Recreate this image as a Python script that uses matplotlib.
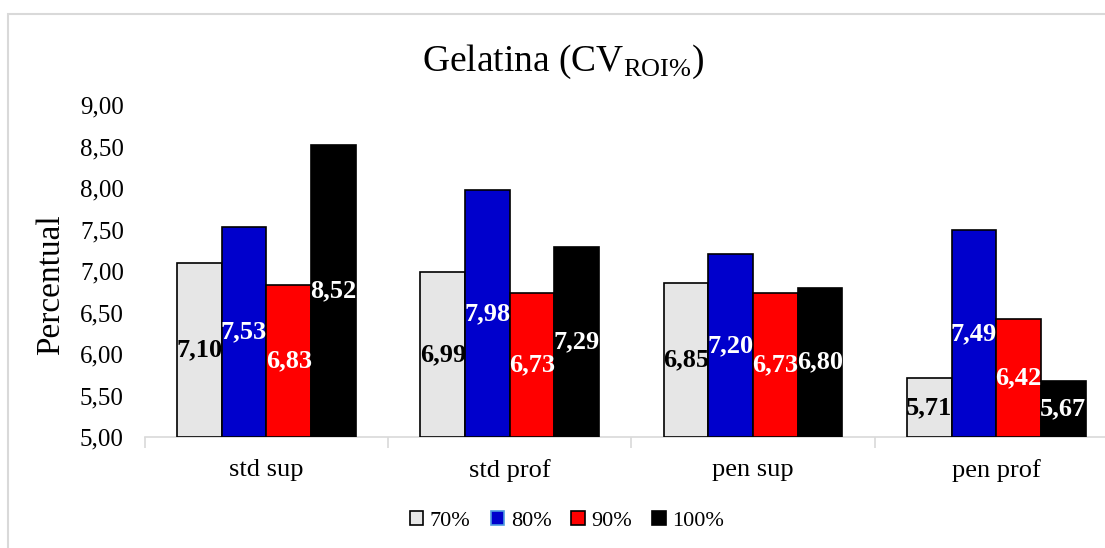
import matplotlib
matplotlib.use("Agg")
import matplotlib.pyplot as plt
import numpy as np
from matplotlib.patches import Rectangle

categories = ["std sup", "std prof", "pen sup", "pen prof"]
series_names = ["70%", "80%", "90%", "100%"]
v70 = [7.10, 6.99, 6.85, 5.71]
v80 = [7.53, 7.98, 7.20, 7.49]
v90 = [6.83, 6.73, 6.73, 6.42]
v100 = [8.52, 7.29, 6.80, 5.67]
yticks = [5.0, 5.5, 6.0, 6.5, 7.0, 7.5, 8.0, 8.5, 9.0]

series = [v70, v80, v90, v100]
colors = ["#E6E6E6", "#0000CC", "#FF0000", "#000000"]
edges = ["#000000", "#000000", "#000000", "#000000"]
label_colors = ["black", "white", "white", "white"]

plt.rcParams['font.family'] = ['Liberation Serif', 'DejaVu Serif']
plt.rcParams['mathtext.fontset'] = 'custom'
plt.rcParams['mathtext.rm'] = 'Liberation Serif'
plt.rcParams['mathtext.it'] = 'Liberation Serif:italic'
plt.rcParams['mathtext.bf'] = 'Liberation Serif:bold'

W, H = 1105, 548
fig = plt.figure(figsize=(W / 100, H / 100), dpi=100)
fig.patches.append(Rectangle((8 / W, -0.1), 1.2, (H - 14) / H + 0.1, transform=fig.transFigure,
                             fill=False, edgecolor="#D9D9D9", linewidth=1.5))
ax_left, ax_right, ax_top, ax_bot = 144.7, 1118.0, 105.0, 437.0
ax = fig.add_axes([ax_left / W, 1 - ax_bot / H, (ax_right - ax_left) / W, (ax_bot - ax_top) / H])

x = np.arange(len(categories))
bw = 0.1833
offsets = (np.arange(4) - 1.5) * bw
for i, (vals, name) in enumerate(zip(series, series_names)):
    ax.bar(x + offsets[i], np.array(vals) - 5.0, bw, bottom=5.0, color=colors[i],
           edgecolor=edges[i], linewidth=1.2, label=name, zorder=3)
    for xi, v in zip(x + offsets[i], vals):
        ax.text(xi, (5.0 + v) / 2, f"{v:.2f}".replace(".", ","), ha="center", va="center",
                color=label_colors[i], fontsize=19, fontweight="bold", zorder=4)

ax.set_ylim(5.0, 9.0)
ax.set_xlim(-0.5, len(categories) - 0.5)
ax.set_yticks(yticks)
ax.set_yticklabels([f"{t:.2f}".replace(".", ",") for t in yticks], fontsize=18)
ax.tick_params(axis="y", length=0, pad=15)
ax.set_xticks(x)
ax.set_xticklabels(categories, fontsize=19)
ax.tick_params(axis="x", length=0, pad=16)
ax.set_xticks(np.arange(len(categories) + 1) - 0.5, minor=True)
ax.tick_params(axis="x", which="minor", length=8, color="#D9D9D9", width=1.2)
for s in ["top", "right", "left"]:
    ax.spines[s].set_visible(False)
ax.spines["bottom"].set_color("#D9D9D9")
ax.spines["bottom"].set_linewidth(1.2)

fig.text(51 / W, 1 - 285 / H, "Percentual", rotation=90, ha="center", va="center", fontsize=24)
fig.text(563.5 / W, 1 - 62 / H, r"Gelatina (CV$_{\mathrm{ROI\%}}$)", ha="center", va="center", fontsize=27)

leg = fig.legend(*ax.get_legend_handles_labels(), loc="center", bbox_to_anchor=(567 / W, 1 - 521 / H),
                 ncol=4, frameon=False, fontsize=16, handlelength=0.6, handleheight=0.6,
                 handletextpad=0.3, columnspacing=0.9)
leg.legend_handles[1].set_edgecolor("#4F9BE0")

fig.savefig("out.png", dpi=100)
